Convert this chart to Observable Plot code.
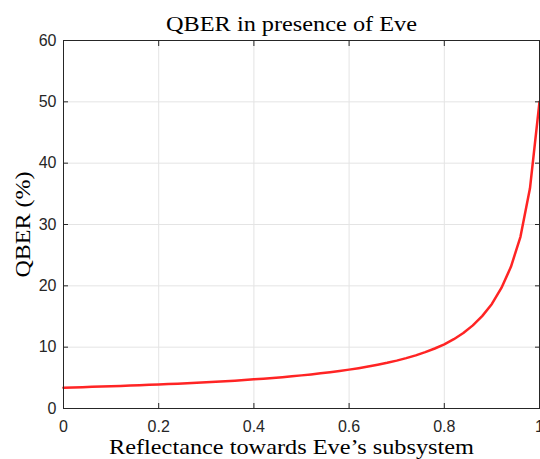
<!DOCTYPE html>
<html><head><meta charset="utf-8">
<script src="https://cdn.jsdelivr.net/npm/d3@7"></script>
<script src="https://cdn.jsdelivr.net/npm/@observablehq/plot@0.6"></script>
<style>body{margin:0;background:#fff;overflow:hidden}</style>
</head><body><div id="chart"></div>
<script>
const reflectance = [0,0.02,0.04,0.06,0.08,0.10,0.12,0.14,0.16,0.18,0.20,0.22,0.24,0.26,0.28,0.30,0.32,0.34,0.36,0.38,0.40,0.42,0.44,0.46,0.48,0.50,0.52,0.54,0.56,0.58,0.60,0.62,0.64,0.66,0.68,0.70,0.72,0.74,0.76,0.78,0.80,0.82,0.84,0.86,0.88,0.90,0.92,0.94,0.96,0.98,1.00];
const qber = [3.40,3.44,3.48,3.53,3.58,3.63,3.68,3.74,3.80,3.86,3.92,3.98,4.05,4.12,4.19,4.27,4.36,4.45,4.54,4.64,4.75,4.86,4.98,5.11,5.25,5.40,5.56,5.73,5.92,6.12,6.34,6.58,6.84,7.13,7.45,7.81,8.21,8.67,9.19,9.78,10.47,11.30,12.30,13.55,15.10,17.05,19.65,23.10,28.00,35.90,50.00];
const xTicks = [0,0.2,0.4,0.6,0.8,1];
const yTicks = [0,10,20,30,40,50,60];
const titleText = "QBER in presence of Eve";
const xLabel = "Reflectance towards Eve\u2019s subsystem";
const yLabel = "QBER (%)";

const data = reflectance.map((r, i) => ({r, q: qber[i]}));
const serif = "'Liberation Serif', 'Times New Roman', serif";
const axisColor = "#262626";
const gridColor = "#e4e4e4";
const fmt = d => String(d);

const chart = Plot.plot({
  width: 540, height: 459,
  marginLeft: 63, marginRight: 1, marginTop: 40, marginBottom: 51,
  style: {fontFamily: "'Liberation Sans', Arial, sans-serif", fontSize: "16px", background: "#fff", color: axisColor, overflow: "visible"},
  x: {domain: [0, 1]},
  y: {domain: [0, 60]},
  marks: [
    Plot.gridX(xTicks, {stroke: gridColor, strokeOpacity: 1}),
    Plot.gridY(yTicks, {stroke: gridColor, strokeOpacity: 1}),
    Plot.line(data, {x: "r", y: "q", stroke: "#ff2424", strokeWidth: 2.5}),
    Plot.frame({stroke: axisColor, strokeWidth: 1}),
    Plot.axisX(xTicks, {anchor: "bottom", tickSize: -5, tickPadding: 17, tickFormat: fmt, label: null, stroke: axisColor, fill: axisColor}),
    Plot.axisX(xTicks, {anchor: "top", tickSize: -5, label: null, stroke: axisColor, fill: "none"}),
    Plot.axisY(yTicks, {anchor: "left", tickSize: -5, tickPadding: 12, tickFormat: fmt, label: null, stroke: axisColor, fill: axisColor}),
    Plot.axisY(yTicks, {anchor: "right", tickSize: -5, label: null, stroke: axisColor, fill: "none"}),
    Plot.text([titleText], {frameAnchor: "top", dy: -17, dx: -10, lineAnchor: "middle", textAnchor: "middle", fontFamily: serif, fontSize: 22, fill: "#000"}),
    Plot.text([xLabel], {frameAnchor: "bottom", dy: 38, dx: -10, lineAnchor: "middle", textAnchor: "middle", fontFamily: serif, fontSize: 22, fill: "#000"}),
    Plot.text([yLabel], {frameAnchor: "left", dx: -41, rotate: -90, lineAnchor: "middle", textAnchor: "middle", fontFamily: serif, fontSize: 22, fill: "#000"})
  ]
});
document.getElementById("chart").appendChild(chart);
const stretch = {[titleText]: 251, [xLabel]: 365, [yLabel]: 106};
d3.select(chart).selectAll("text").each(function() {
  const t = this.textContent;
  if (stretch[t]) {
    this.setAttribute("textLength", stretch[t]);
    this.setAttribute("lengthAdjust", "spacingAndGlyphs");
  }
});
</script>
</body></html>
